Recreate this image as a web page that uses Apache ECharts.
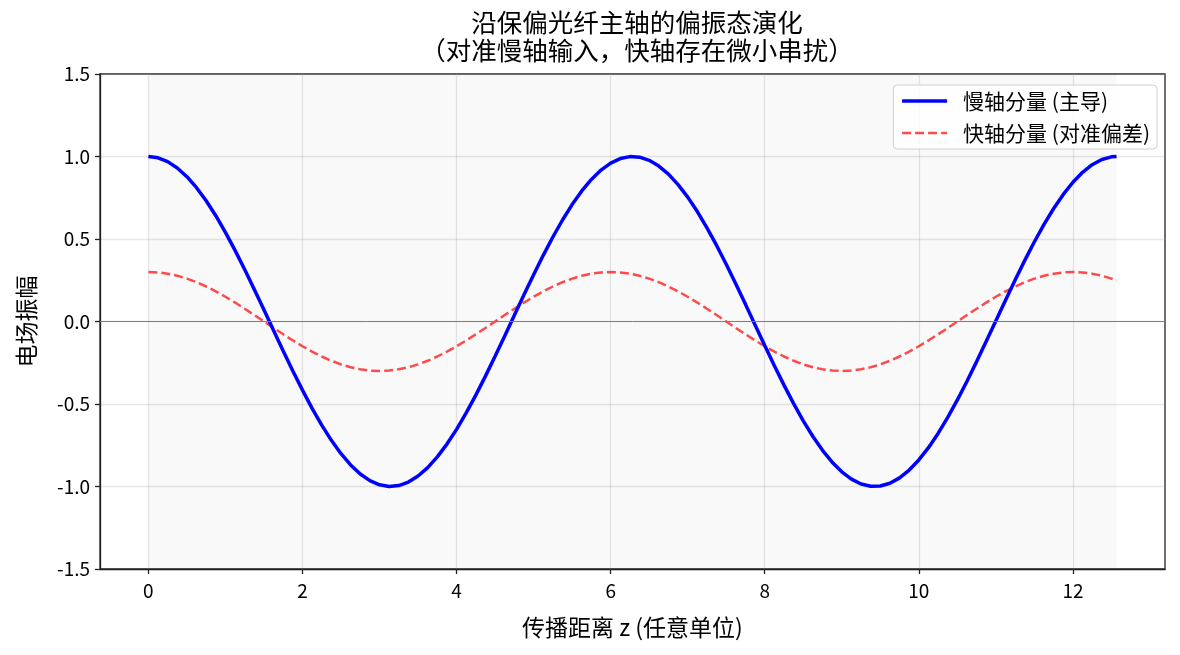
<!DOCTYPE html>
<html>
<head>
<meta charset="utf-8">
<script src="https://cdn.jsdelivr.net/npm/echarts@6/dist/echarts.min.js"></script>
<style>
html, body { margin: 0; padding: 0; background: #fff; }
#app { width: 1180px; height: 655px; }
</style>
</head>
<body>
<div id="app"></div>
<script>
// 传播距离 z
const zs = [
	0, 0.125, 0.25, 0.375, 0.5, 0.625, 0.75, 0.875,
	1, 1.125, 1.25, 1.375, 1.5, 1.625, 1.75, 1.875,
	2, 2.125, 2.25, 2.375, 2.5, 2.625, 2.75, 2.875,
	3, 3.125, 3.25, 3.375, 3.5, 3.625, 3.75, 3.875,
	4, 4.125, 4.25, 4.375, 4.5, 4.625, 4.75, 4.875,
	5, 5.125, 5.25, 5.375, 5.5, 5.625, 5.75, 5.875,
	6, 6.125, 6.25, 6.375, 6.5, 6.625, 6.75, 6.875,
	7, 7.125, 7.25, 7.375, 7.5, 7.625, 7.75, 7.875,
	8, 8.125, 8.25, 8.375, 8.5, 8.625, 8.75, 8.875,
	9, 9.125, 9.25, 9.375, 9.5, 9.625, 9.75, 9.875,
	10, 10.125, 10.25, 10.375, 10.5, 10.625, 10.75, 10.875,
	11, 11.125, 11.25, 11.375, 11.5, 11.625, 11.75, 11.875,
	12, 12.125, 12.25, 12.375, 12.5, 12.566];
// 慢轴分量 (主导)
const slowAxis = [
	1, 0.9922, 0.9689, 0.9305, 0.8776, 0.811, 0.7317, 0.641,
	0.5403, 0.4312, 0.3153, 0.1946, 0.0707, -0.0542, -0.1782, -0.2995,
	-0.4161, -0.5263, -0.6282, -0.7203, -0.8011, -0.8695, -0.9243, -0.9647,
	-0.99, -0.9999, -0.9941, -0.9729, -0.9365, -0.8854, -0.8206, -0.7429,
	-0.6536, -0.5542, -0.4461, -0.331, -0.2108, -0.0873, 0.0376, 0.1619,
	0.2837, 0.401, 0.5121, 0.6152, 0.7087, 0.7911, 0.8612, 0.9178,
	0.9602, 0.9875, 0.9994, 0.9958, 0.9766, 0.9422, 0.893, 0.8299,
	0.7539, 0.6661, 0.5679, 0.4609, 0.3466, 0.227, 0.1038, -0.021,
	-0.1455, -0.2677, -0.3857, -0.4977, -0.602, -0.6969, -0.7808, -0.8526,
	-0.9111, -0.9554, -0.9848, -0.9988, -0.9972, -0.98, -0.9476, -0.9004,
	-0.8391, -0.7647, -0.6784, -0.5816, -0.4755, -0.3622, -0.2431, -0.1203,
	0.0044, 0.129, 0.2517, 0.3704, 0.4833, 0.5887, 0.6848, 0.7703,
	0.8439, 0.9042, 0.9504, 0.9817, 0.9978, 1];
// 快轴分量 (对准偏差)
const fastAxis = [
	0.3, 0.2974, 0.2898, 0.2772, 0.2598, 0.238, 0.2121, 0.1826,
	0.15, 0.1148, 0.0776, 0.0392, 0, -0.0392, -0.0776, -0.1148,
	-0.15, -0.1826, -0.2121, -0.238, -0.2598, -0.2772, -0.2898, -0.2974,
	-0.3, -0.2974, -0.2898, -0.2772, -0.2598, -0.238, -0.2121, -0.1826,
	-0.15, -0.1148, -0.0776, -0.0392, 0, 0.0392, 0.0776, 0.1148,
	0.15, 0.1826, 0.2121, 0.238, 0.2598, 0.2772, 0.2898, 0.2974,
	0.3, 0.2974, 0.2898, 0.2772, 0.2598, 0.238, 0.2121, 0.1826,
	0.15, 0.1148, 0.0776, 0.0392, 0, -0.0392, -0.0776, -0.1148,
	-0.15, -0.1826, -0.2121, -0.238, -0.2598, -0.2772, -0.2898, -0.2974,
	-0.3, -0.2974, -0.2898, -0.2772, -0.2598, -0.238, -0.2121, -0.1826,
	-0.15, -0.1148, -0.0776, -0.0392, 0, 0.0392, 0.0776, 0.1148,
	0.15, 0.1826, 0.2121, 0.238, 0.2598, 0.2772, 0.2898, 0.2974,
	0.3, 0.2974, 0.2898, 0.2772, 0.2598, 0.2488];
const xTicks = [0, 2, 4, 6, 8, 10, 12];
const spanRange = [0, 12.566];

const font = '"Noto Sans CJK SC", "Noto Sans", sans-serif';
const gridColor = 'rgba(176,176,176,0.3)';
const slowStyle = { color: '#0000ff', width: 3.5 };
const fastStyle = { color: 'rgba(255,0,0,0.7)', width: 2.5, type: [9, 4] };

let chart = echarts.init(document.getElementById('app'));
let option = {
	backgroundColor: '#fff',
	textStyle: { fontFamily: font },
	title: {
		text: '沿保偏光纤主轴的偏振态演化\n（对准慢轴输入，快轴存在微小串扰）',
		left: 632,
		textAlign: 'center',
		top: 3,
		textStyle: { fontSize: 25.5, lineHeight: 28, fontWeight: 'normal', color: '#000', fontFamily: font }
	},
	legend: {
		orient: 'vertical',
		right: 23,
		top: 85,
		padding: [5, 7, 5, 7],
		itemWidth: 45,
		itemHeight: 14,
		itemGap: 10,
		borderColor: '#d0d0d0',
		borderWidth: 1,
		borderRadius: 4,
		backgroundColor: 'rgba(255,255,255,0.8)',
		itemStyle: { opacity: 0 },
		textStyle: { fontSize: 21, lineHeight: 22, color: '#000', fontFamily: font, padding: [0, 0, 0, 11] },
		data: [
			{ name: '慢轴分量 (主导)', lineStyle: slowStyle },
			{ name: '快轴分量 (对准偏差)', lineStyle: fastStyle }
		]
	},
	grid: {
		left: 100,
		right: 15,
		top: 74,
		bottom: 86,
		show: true,
		borderColor: '#222',
		borderWidth: 1.3
	},
	xAxis: {
		type: 'value',
		min: -0.628,
		max: 13.195,
		name: '传播距离 z (任意单位)',
		nameLocation: 'middle',
		nameGap: 47,
		nameTextStyle: { fontSize: 23, color: '#000', fontFamily: font },
		axisLine: { onZero: false, lineStyle: { color: '#222', width: 1.3 } },
		axisTick: { show: true, length: 5, customValues: xTicks, lineStyle: { color: '#222', width: 1.3 } },
		axisLabel: { customValues: xTicks, fontSize: 19, color: '#000', margin: 12, fontFamily: font },
		splitLine: { show: true, lineStyle: { color: gridColor, width: 1.3 } }
	},
	yAxis: {
		type: 'value',
		min: -1.5,
		max: 1.5,
		interval: 0.5,
		name: '电场振幅',
		nameLocation: 'middle',
		nameGap: 62,
		nameTextStyle: { fontSize: 23, color: '#000', fontFamily: font },
		axisLine: { show: true, onZero: false, lineStyle: { color: '#222', width: 1.3 } },
		axisTick: { show: true, length: 5, lineStyle: { color: '#222', width: 1.3 } },
		axisLabel: {
			fontSize: 19, color: '#000', margin: 10, fontFamily: font,
			formatter: v => v.toFixed(1)
		},
		splitLine: { show: true, lineStyle: { color: gridColor, width: 1.3 } }
	},
	series: [{
		name: '慢轴分量 (主导)',
		type: 'line',
		symbol: 'none',
		z: 3,
		lineStyle: slowStyle,
		itemStyle: { color: '#0000ff' },
		data: zs.map((z, i) => [z, slowAxis[i]]),
		markArea: {
			silent: true,
			itemStyle: { color: 'rgba(0,0,0,0.025)' },
			data: [[{ xAxis: spanRange[0] }, { xAxis: spanRange[1] }]]
		},
		markLine: {
			silent: true,
			symbol: 'none',
			label: { show: false },
			lineStyle: { color: '#808080', width: 1, type: 'solid' },
			data: [{ yAxis: 0 }]
		}
	}, {
		name: '快轴分量 (对准偏差)',
		type: 'line',
		symbol: 'none',
		z: 2,
		lineStyle: fastStyle,
		itemStyle: { color: 'rgba(255,0,0,0.7)' },
		data: zs.map((z, i) => [z, fastAxis[i]])
	}]
};
chart.setOption(option);
</script>
</body>
</html>
